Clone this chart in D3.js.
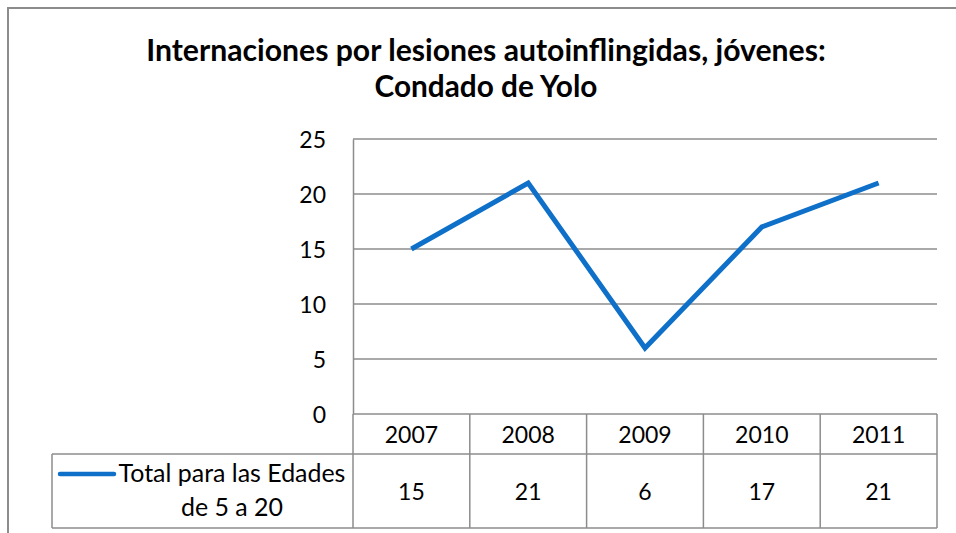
<!DOCTYPE html>
<html><head><meta charset="utf-8">
<script src="https://cdn.jsdelivr.net/npm/d3@7/dist/d3.min.js"></script>
<style>body{margin:0;background:#fff}svg{display:block}text{font-family:Lato,"Open Sans",sans-serif;fill:#000}</style>
</head><body><svg id="c" width="956" height="533"></svg>
<script>
const titleLines = ["Internaciones por lesiones autoinflingidas, jóvenes:", "Condado de Yolo"];
const years = ["2007", "2008", "2009", "2010", "2011"];
const values = [15, 21, 6, 17, 21];
const yTicks = [0, 5, 10, 15, 20, 25];
const seriesName = ["Total para las Edades", "de 5 a 20"];

const svg = d3.select("#c");
const W = 956, H = 533;
const m = {left: 353, right: 937, top: 139, bottom: 414};
const headerBottom = 454, tableBottom = 528, legendLeft = 52;
const gray = "#8c8c8c", blue = "#0e70c8";

svg.append("path").attr("d", `M8,${H} V8 H${W+5}`).attr("fill","none").attr("stroke",gray).attr("stroke-width",2);

const titleW = [680, 223];
titleLines.forEach((t, i) => {
  const tx = svg.append("text").attr("x", 486).attr("y", i === 0 ? 61 : 97)
    .attr("text-anchor","middle").attr("font-weight","bold").attr("font-size",26).text(t);
  const w = tx.node().getComputedTextLength();
  tx.attr("font-size", 26 * titleW[i] / w);
});

const x = d3.scaleBand().domain(years).range([m.left, m.right]);
const y = d3.scaleLinear().domain([0, 25]).range([m.bottom, m.top]);

svg.append("g").selectAll("line").data(yTicks).join("line")
  .attr("x1", m.left).attr("x2", m.right).attr("y1", d => y(d)).attr("y2", d => y(d))
  .attr("stroke", gray).attr("stroke-width", 1.5);

const yAxis = svg.append("g").attr("transform", `translate(${m.left},0)`)
  .call(d3.axisLeft(y).tickValues(yTicks).tickSize(0).tickPadding(27));
yAxis.select(".domain").attr("stroke", gray).attr("stroke-width", 1.5);
yAxis.selectAll("text").attr("font-size", 23).attr("font-family","Lato").attr("fill","#000").attr("dy","0.35em");

const colEdges = years.map(d => x(d)).concat([m.right]);
const tg = svg.append("g").attr("stroke", gray).attr("stroke-width", 1.5).attr("fill","none");
colEdges.forEach(cx => tg.append("line").attr("x1",cx).attr("x2",cx).attr("y1",m.bottom).attr("y2",tableBottom));
tg.append("line").attr("x1",legendLeft).attr("x2",m.right).attr("y1",headerBottom).attr("y2",headerBottom);
tg.append("line").attr("x1",legendLeft).attr("x2",m.right).attr("y1",tableBottom).attr("y2",tableBottom);
tg.append("line").attr("x1",legendLeft).attr("x2",legendLeft).attr("y1",headerBottom).attr("y2",tableBottom);

svg.append("g").selectAll("text").data(years).join("text")
  .attr("x", d => x(d) + x.bandwidth()/2).attr("y", 443)
  .attr("text-anchor","middle").attr("font-size",23).text(d => d);

svg.append("g").selectAll("text").data(values).join("text")
  .attr("x", (d,i) => x(years[i]) + x.bandwidth()/2).attr("y", 500)
  .attr("text-anchor","middle").attr("font-size",23).text(d => d);

svg.append("line").attr("x1",60).attr("x2",114).attr("y1",474).attr("y2",474)
  .attr("stroke",blue).attr("stroke-width",4.5).attr("stroke-linecap","round");
const legW = [227, 98];
seriesName.forEach((t,i) => {
  const tx = svg.append("text").attr("x",232).attr("y", i===0 ? 482 : 516)
    .attr("text-anchor","middle").attr("font-size",22).text(t);
  if (i === 0) {
    const w = tx.node().getComputedTextLength();
    svg.attr("data-legfs", 22 * legW[0] / w);
  }
});
const legFs = +svg.attr("data-legfs");
svg.selectAll("text").filter(function(){ return seriesName.includes(this.textContent); }).attr("font-size", legFs);

const line = d3.line().x((d,i) => x(years[i]) + x.bandwidth()/2).y(d => y(d));
svg.append("path").datum(values).attr("d", line).attr("fill","none")
  .attr("stroke", blue).attr("stroke-width", 5).attr("stroke-linejoin","miter");
</script></body></html>
